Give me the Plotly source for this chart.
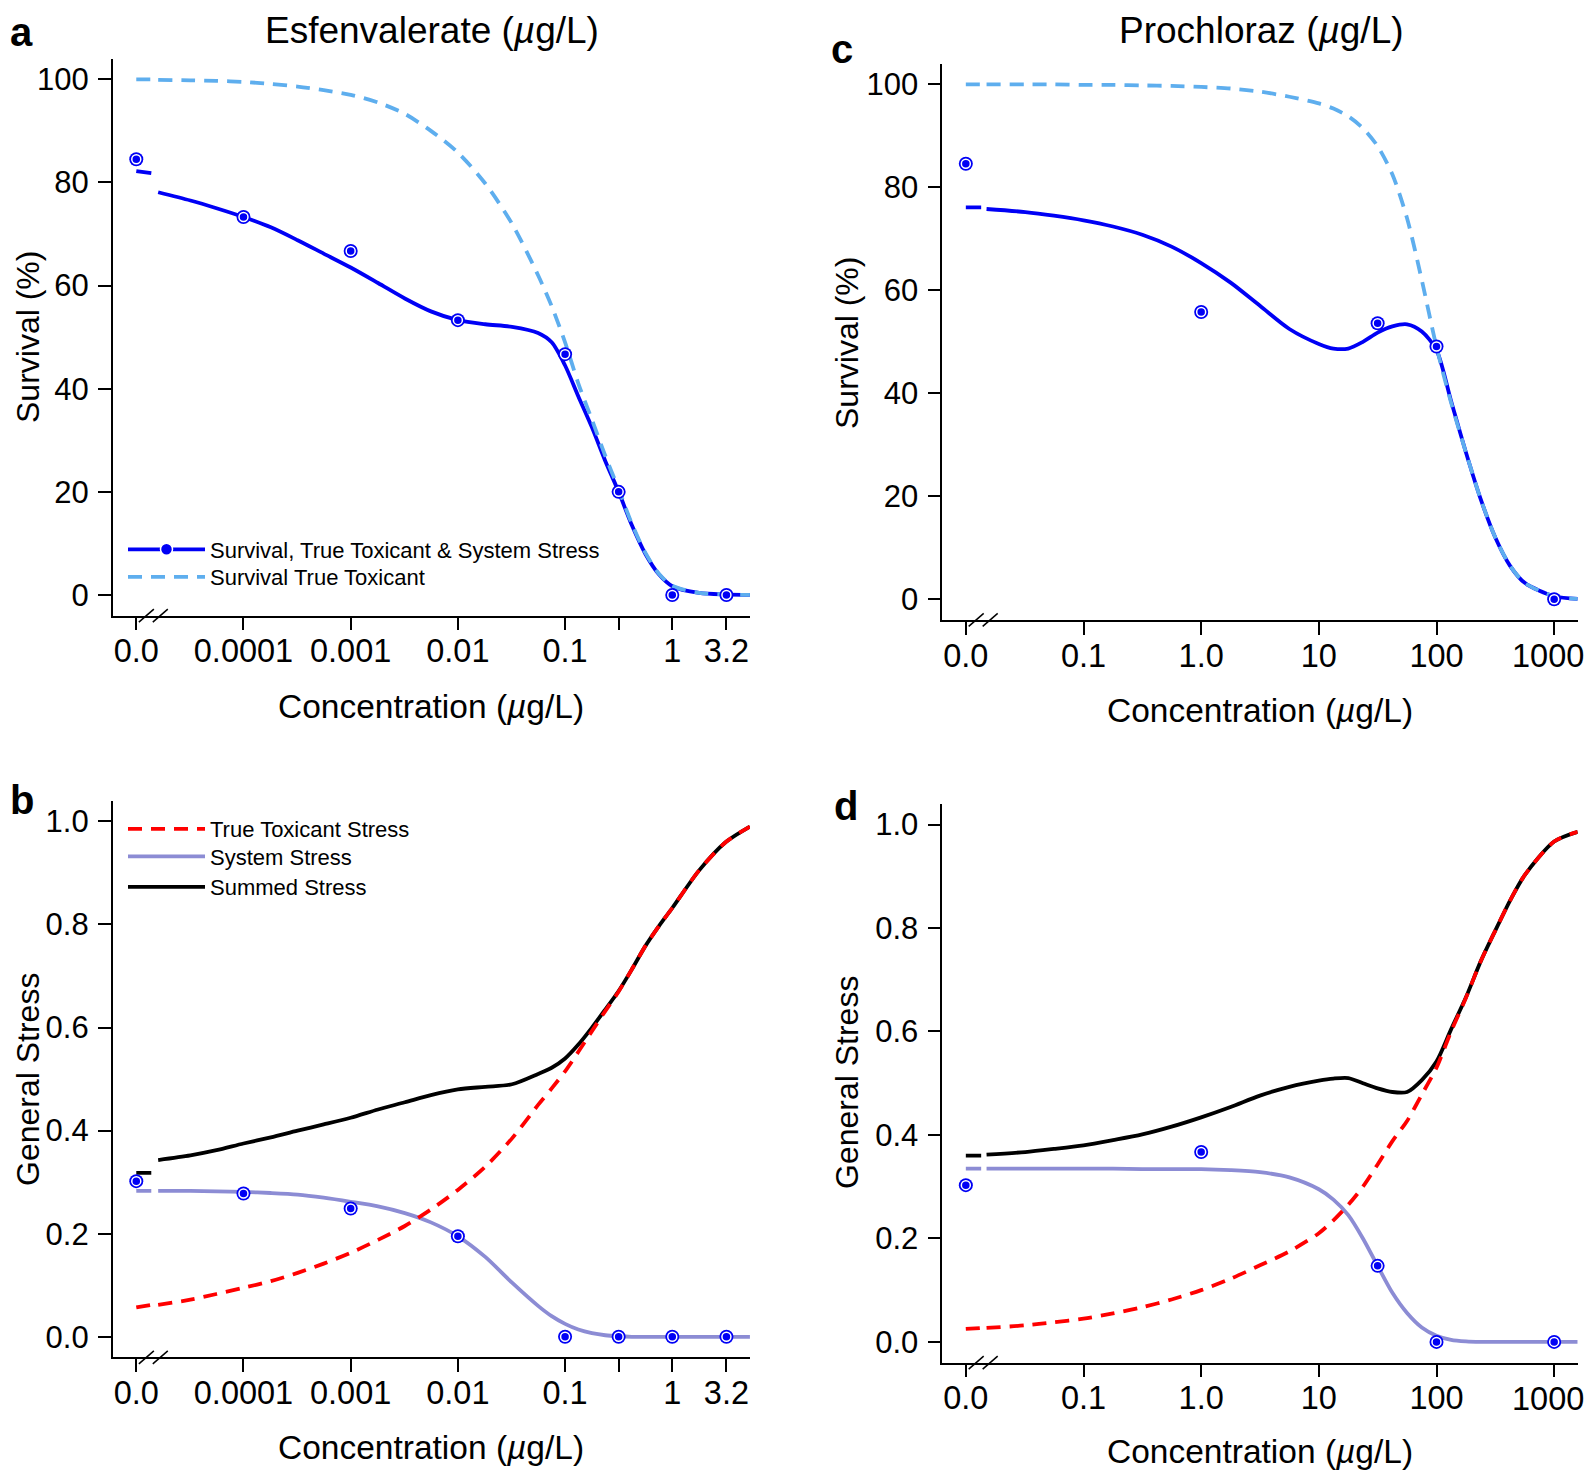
"""
Survival and stress curves for Esfenvalerate and Prochloraz (4 panels, R-style axes).
"""
import plotly.graph_objects as go

# --- DATA ---
# observed points; control (0) is drawn at a fixed spot left of the axis break
ESF_CONC = [0, 0.0001, 0.001, 0.01, 0.1, 0.316, 1, 3.2]
ESF_SURVIVAL = [84.5, 73.3, 66.7, 53.3, 46.7, 20.0, 0.0, 0.0]
ESF_STRESS = [0.302, 0.278, 0.249, 0.195, 0.0, 0.0, 0.0, 0.0]

PRO_CONC = [0, 1, 31.6, 100, 1000]
PRO_SURVIVAL = [84.6, 55.8, 53.6, 49.1, 0.0]
PRO_STRESS = [0.303, 0.367, 0.147, 0.0, 0.0]

# fitted curves (right of the axis break)
ESF_CURVE_X = [1.6e-5, 3.2e-5, 5.6e-5, 1e-4, 1.8e-4, 3.2e-4, 5.6e-4, 1e-3, 1.8e-3,
               3.2e-3, 5.6e-3, 0.01, 0.018, 0.032, 0.056, 0.075, 0.1, 0.133, 0.178,
               0.237, 0.316, 0.42, 0.56, 0.75, 1.0, 1.78, 3.16, 5.3]
ESF_SURV_FULL = [78.1, 76.5, 75.0, 73.3, 71.3, 68.8, 66.2, 63.5, 60.5, 57.5, 55.0, 53.3,
                 52.5, 52.0, 50.8, 49.0, 44.5, 38.5, 32.5, 26.0, 20.0, 13.5, 8.0, 4.0,
                 1.7, 0.4, 0.1, 0.0]
ESF_SURV_TOX = [99.9, 99.8, 99.7, 99.5, 99.1, 98.6, 97.9, 97.0, 95.5, 93.3, 90.0, 85.8,
                79.8, 72.0, 62.0, 56.0, 49.0, 41.0, 34.0, 27.0, 20.5, 13.8, 8.2, 4.1,
                1.8, 0.4, 0.1, 0.0]
ESF_TOX_STRESS = [0.062, 0.072, 0.083, 0.095, 0.108, 0.124, 0.142, 0.163, 0.188, 0.215,
                  0.247, 0.285, 0.33, 0.385, 0.45, 0.482, 0.515, 0.553, 0.593, 0.632,
                  0.67, 0.713, 0.758, 0.797, 0.832, 0.905, 0.96, 0.99]
ESF_SYS_STRESS = [0.283, 0.283, 0.282, 0.281, 0.279, 0.276, 0.27, 0.262, 0.253, 0.24,
                  0.222, 0.195, 0.155, 0.105, 0.06, 0.04, 0.025, 0.014, 0.007, 0.003,
                  0.001, 0, 0, 0, 0, 0, 0, 0]
ESF_SUM_STRESS = [0.343, 0.352, 0.362, 0.375, 0.387, 0.4, 0.412, 0.425, 0.441, 0.455,
                  0.469, 0.48, 0.485, 0.49, 0.51, 0.522, 0.54, 0.567, 0.6, 0.635,
                  0.671, 0.713, 0.758, 0.797, 0.832, 0.905, 0.96, 0.99]

PRO_CURVE_X = [0.015, 0.032, 0.056, 0.1, 0.178, 0.316, 0.56, 1, 1.78, 3.16, 5.62, 10,
               13.3, 17.8, 23.7, 31.6, 42.2, 56.2, 75, 100, 133, 178, 237, 316, 422,
               562, 1000, 1585]
PRO_SURV_FULL = [75.8, 75.2, 74.5, 73.6, 72.4, 70.8, 68.5, 65.3, 61.5, 57.0, 52.5, 49.6,
                 48.7, 48.7, 50.0, 51.8, 53.0, 53.4, 52.0, 48.4, 38.5, 28.5, 19.5, 12.0,
                 6.5, 3.2, 0.6, 0.1]
PRO_SURV_TOX = [100, 100, 100, 99.9, 99.9, 99.8, 99.7, 99.5, 99.2, 98.6, 97.6, 96.3,
                95.3, 93.8, 91.5, 88.0, 82.5, 74.0, 62.0, 49.0, 38.2, 28.5, 19.5, 12.0,
                6.5, 3.2, 0.6, 0.1]
PRO_TOX_STRESS = [0.027, 0.032, 0.038, 0.045, 0.055, 0.067, 0.082, 0.1, 0.122, 0.148,
                  0.175, 0.21, 0.235, 0.265, 0.3, 0.343, 0.388, 0.427, 0.478, 0.53, 0.6,
                  0.665, 0.735, 0.795, 0.853, 0.902, 0.967, 0.986]
PRO_SYS_STRESS = [0.335, 0.335, 0.335, 0.335, 0.335, 0.334, 0.334, 0.334, 0.332, 0.328,
                  0.318, 0.295, 0.275, 0.245, 0.2, 0.147, 0.095, 0.056, 0.028, 0.012,
                  0.004, 0.001, 0, 0, 0, 0, 0, 0]
PRO_SUM_STRESS = [0.362, 0.367, 0.373, 0.38, 0.39, 0.401, 0.416, 0.434, 0.454, 0.476,
                  0.493, 0.505, 0.509, 0.51, 0.5, 0.49, 0.483, 0.483, 0.506, 0.542,
                  0.604, 0.666, 0.735, 0.795, 0.853, 0.902, 0.967, 0.986]

# curve values at zero concentration (short stub left of the break)
ESF_ZERO = {"full": 82.0, "tox": 100.0, "tox_stress": 0.057, "sys": 0.283, "sum": 0.318}
PRO_ZERO = {"full": 76.1, "tox": 100.0, "tox_stress": 0.025, "sys": 0.335, "sum": 0.36}

# tick labels ("1000" is set separately so it stays inside the page)
ESF_TICKS = [1e-5, 1e-4, 1e-3, 1e-2, 0.1, 0.316, 1, 3.2]
ESF_TICKTEXT = ["0.0", "0.0001", "0.001", "0.01", "0.1", "", "1", "3.2"]
PRO_TICKS = [0.01, 0.1, 1, 10, 100, 1000]
PRO_TICKTEXT = ["0.0", "0.1", "1.0", "10", "100", ""]
PRO_LAST_TICK = "1000"
SURV_TICKS = [0, 20, 40, 60, 80, 100]
STRESS_TICKS = [0, 0.2, 0.4, 0.6, 0.8, 1.0]
STRESS_TICKTEXT = ["0.0", "0.2", "0.4", "0.6", "0.8", "1.0"]

# --- STYLE ---
FONT = "Liberation Sans, Arial, Helvetica, sans-serif"
BLUE = "#0000F5"
LIGHT_BLUE = "#5EAEEE"
RED = "#FF0000"
LAVENDER = "#8C8CD4"
BLACK = "#000000"
LW = 3.8
XTICK_SIZE = 32.5
YTICK_SIZE = 31

# page is 1594x1474, the browser body puts the figure 8px in from the top-left
PAGE_OFF = 8
W, H = 1594 - 2 * PAGE_OFF, 1474 - PAGE_OFF

# where the control sits and where its stub ends (log axes)
ESF_ZERO_POS, ESF_STUB_END = 1e-5, 1.38e-5
PRO_ZERO_POS, PRO_STUB_END = 0.01, 0.0135

# x ranges (log10) and y ranges, R style 4% padding
ESF_XRANGE = [-5.22, 0.725]
PRO_XRANGE = [-2.2, 3.2]


def fx(px):
    """page pixel x -> paper fraction"""
    return (px - PAGE_OFF) / W


def fy(py):
    """page pixel y -> paper fraction"""
    return 1 - (py - PAGE_OFF) / H


def line_pair(fig, xa, ya, stub_x, stub_y, xs, ys, color, dash=None, name=None,
              legend=None):
    """Short stub at the control, then the fitted curve after the break."""
    dashstyle = "14px,9px" if dash else "solid"
    fig.add_trace(go.Scatter(
        x=stub_x, y=stub_y, mode="lines", xaxis=xa, yaxis=ya,
        line=dict(color=color, width=LW, dash=dashstyle),
        showlegend=False, hoverinfo="skip"))
    fig.add_trace(go.Scatter(
        x=xs, y=ys, mode="lines", xaxis=xa, yaxis=ya, name=name,
        line=dict(color=color, width=LW, dash=dashstyle, shape="spline", smoothing=0.8),
        showlegend=name is not None, legend=legend))


def points(fig, xa, ya, xs, ys):
    fig.add_trace(go.Scatter(
        x=xs, y=ys, mode="markers", xaxis=xa, yaxis=ya, showlegend=False,
        marker=dict(symbol="circle", size=14, color=BLUE, line=dict(width=0))))
    fig.add_trace(go.Scatter(
        x=xs, y=ys, mode="markers", xaxis=xa, yaxis=ya, showlegend=False,
        marker=dict(symbol="circle", size=9, color=BLUE,
                    line=dict(color="white", width=1.5))))


fig = go.Figure()

esf_x = [ESF_ZERO_POS if c == 0 else c for c in ESF_CONC]
pro_x = [PRO_ZERO_POS if c == 0 else c for c in PRO_CONC]
esf_stub = [ESF_ZERO_POS, ESF_STUB_END]
pro_stub = [PRO_ZERO_POS, PRO_STUB_END]

# panel a: survival, esfenvalerate
line_pair(fig, "x", "y", esf_stub, [ESF_ZERO["full"] + 0.2, ESF_ZERO["full"] - 0.2],
          ESF_CURVE_X, ESF_SURV_FULL, BLUE)
line_pair(fig, "x", "y", esf_stub, [ESF_ZERO["tox"]] * 2,
          ESF_CURVE_X, ESF_SURV_TOX, LIGHT_BLUE, dash=True,
          name="Survival True Toxicant", legend="legend2")
points(fig, "x", "y", esf_x, ESF_SURVIVAL)

# panel b: stress, esfenvalerate
line_pair(fig, "x2", "y2", esf_stub, [ESF_ZERO["sys"]] * 2,
          ESF_CURVE_X, ESF_SYS_STRESS, LAVENDER,
          name="System Stress", legend="legend4")
line_pair(fig, "x2", "y2", esf_stub, [ESF_ZERO["sum"]] * 2,
          ESF_CURVE_X, ESF_SUM_STRESS, BLACK,
          name="Summed Stress", legend="legend5")
line_pair(fig, "x2", "y2", esf_stub, [ESF_ZERO["tox_stress"], ESF_TOX_STRESS[0]],
          ESF_CURVE_X, ESF_TOX_STRESS, RED, dash=True,
          name="True Toxicant Stress", legend="legend3")
points(fig, "x2", "y2", esf_x, ESF_STRESS)

# panel c: survival, prochloraz
line_pair(fig, "x3", "y3", pro_stub, [PRO_ZERO["full"]] * 2,
          PRO_CURVE_X, PRO_SURV_FULL, BLUE)
line_pair(fig, "x3", "y3", pro_stub, [PRO_ZERO["tox"]] * 2,
          PRO_CURVE_X, PRO_SURV_TOX, LIGHT_BLUE, dash=True)
points(fig, "x3", "y3", pro_x, PRO_SURVIVAL)

# panel d: stress, prochloraz
line_pair(fig, "x4", "y4", pro_stub, [PRO_ZERO["sys"]] * 2,
          PRO_CURVE_X, PRO_SYS_STRESS, LAVENDER)
line_pair(fig, "x4", "y4", pro_stub, [PRO_ZERO["sum"]] * 2,
          PRO_CURVE_X, PRO_SUM_STRESS, BLACK)
line_pair(fig, "x4", "y4", pro_stub, [PRO_ZERO["tox_stress"], PRO_TOX_STRESS[0]],
          PRO_CURVE_X, PRO_TOX_STRESS, RED, dash=True)
points(fig, "x4", "y4", pro_x, PRO_STRESS)

# legend entry for the combined line + marker symbol
fig.add_trace(go.Scatter(
    x=[None], y=[None], mode="lines+markers", xaxis="x", yaxis="y",
    name="Survival, True Toxicant & System Stress", legend="legend",
    line=dict(color=BLUE, width=LW),
    marker=dict(symbol="circle", size=12, color=BLUE, line=dict(color="white", width=1.5))))

# --- AXES ---
axis_common = dict(
    showline=True, linecolor="black", linewidth=1.6, mirror=False,
    ticks="outside", ticklen=13, tickwidth=1.6, tickcolor="black",
    showgrid=False, zeroline=False,
)

ESF_XDOM = [fx(112.7), fx(750)]
PRO_XDOM = [fx(942.3), fx(1577.7)]

xcfg = dict(type="log", tickmode="array", ticklabelstandoff=-7,
            tickfont=dict(family=FONT, size=XTICK_SIZE, color="black"), **axis_common)
ycfg = dict(tickmode="array", ticklabelstandoff=3,
            tickfont=dict(family=FONT, size=YTICK_SIZE, color="black"), **axis_common)

fig.update_layout(
    xaxis=dict(domain=ESF_XDOM, range=ESF_XRANGE, anchor="y",
               tickvals=ESF_TICKS, ticktext=ESF_TICKTEXT, **xcfg),
    yaxis=dict(domain=[fy(615.6), fy(58.7)], range=[-4, 104], anchor="x",
               tickvals=SURV_TICKS, **ycfg),
    xaxis2=dict(domain=ESF_XDOM, range=ESF_XRANGE, anchor="y2",
                tickvals=ESF_TICKS, ticktext=ESF_TICKTEXT, **xcfg),
    yaxis2=dict(domain=[fy(1357.4), fy(800.8)], range=[-0.04, 1.04], anchor="x2",
                tickvals=STRESS_TICKS, ticktext=STRESS_TICKTEXT, **ycfg),
    xaxis3=dict(domain=PRO_XDOM, range=PRO_XRANGE, anchor="y3",
                tickvals=PRO_TICKS, ticktext=PRO_TICKTEXT, **xcfg),
    yaxis3=dict(domain=[fy(619.9), fy(63.8)], range=[-4, 104], anchor="x3",
                tickvals=SURV_TICKS, **ycfg),
    xaxis4=dict(domain=PRO_XDOM, range=PRO_XRANGE, anchor="y4",
                tickvals=PRO_TICKS, ticktext=PRO_TICKTEXT, **xcfg),
    yaxis4=dict(domain=[fy(1362.6), fy(803.8)], range=[-0.04, 1.04], anchor="x4",
                tickvals=STRESS_TICKS, ticktext=STRESS_TICKTEXT, **ycfg),
)

# --- TEXT ---
annotations = []


def text(x, y, s, size, bold=False, angle=0, xanchor="center", yanchor="middle"):
    """x/y in page pixels; None pins the text to the left / top edge."""
    annotations.append(dict(
        x=0 if x is None else fx(x),
        y=1 if y is None else fy(y), xref="paper", yref="paper",
        text=f"<b>{s}</b>" if bold else s,
        showarrow=False, textangle=angle, xanchor=xanchor, yanchor=yanchor,
        font=dict(family=FONT, size=size, color="black")))


# titles, panel letters and left titles sit right at the page edges
text(432, None, "Esfenvalerate (<i>µ</i>g/L)", 37, yanchor="top")
text(1261, None, "Prochloraz (<i>µ</i>g/L)", 37, yanchor="top")
text(None, None, "a", 40, bold=True, xanchor="left", yanchor="top")
text(None, 800, "b", 40, bold=True, xanchor="left")
text(842, 49, "c", 40, bold=True)
text(846, 806, "d", 40, bold=True)
text(None, 337, "Survival (%)", 32, angle=-90, xanchor="left")
text(847, 343, "Survival (%)", 32, angle=-90)
text(None, 1080, "General Stress", 32, angle=-90, xanchor="left")
text(847, 1083, "General Stress", 32, angle=-90)
text(431, 706, "Concentration (<i>µ</i>g/L)", 33.5)
text(1260, 710, "Concentration (<i>µ</i>g/L)", 33.5)
text(431, 1447, "Concentration (<i>µ</i>g/L)", 33.5)
text(1260, 1451, "Concentration (<i>µ</i>g/L)", 33.5)

# last tick label on the prochloraz axes, kept flush with the right edge
for label_y in (655.7, 1399):
    annotations.append(dict(
        x=1, y=fy(label_y), xref="paper", yref="paper", text=PRO_LAST_TICK,
        showarrow=False, xanchor="right", yanchor="middle",
        font=dict(family=FONT, size=XTICK_SIZE, color="black")))

# --- AXIS BREAK MARKS "//" ---
shapes = []


def axis_break(xref, yref, xrange_log, slash_logs):
    span = xrange_log[1] - xrange_log[0]
    for lg in slash_logs:
        shapes.append(dict(
            type="line", xref=f"{xref} domain", yref=f"{yref} domain",
            xsizemode="pixel", ysizemode="pixel",
            xanchor=(lg - xrange_log[0]) / span, yanchor=0,
            x0=-7.5, x1=7.5, y0=-6.5, y1=6.5,
            line=dict(color="black", width=1.5)))


axis_break("x", "y", ESF_XRANGE, [-4.906, -4.776])
axis_break("x2", "y2", ESF_XRANGE, [-4.906, -4.776])
axis_break("x3", "y3", PRO_XRANGE, [-1.912, -1.793])
axis_break("x4", "y4", PRO_XRANGE, [-1.912, -1.793])

# one legend box per entry so the row spacing matches the reference
LEG_X = 123
LEG_TOP = 21.5


def leg(row_center):
    return dict(
        x=fx(LEG_X), y=fy(row_center - LEG_TOP), xanchor="left", yanchor="top",
        bgcolor="rgba(0,0,0,0)", borderwidth=0, itemwidth=77,
        font=dict(family=FONT, size=22, color="black"))


fig.update_layout(
    width=W, height=H,
    margin=dict(l=0, r=0, t=0, b=0),
    paper_bgcolor="white", plot_bgcolor="white",
    font=dict(family=FONT, color="black"),
    annotations=annotations,
    shapes=shapes,
    showlegend=True,
    legend=leg(550),
    legend2=leg(577.5),
    legend3=leg(829.5),
    legend4=leg(857),
    legend5=leg(887.5),
)

fig.write_html("out.html")
